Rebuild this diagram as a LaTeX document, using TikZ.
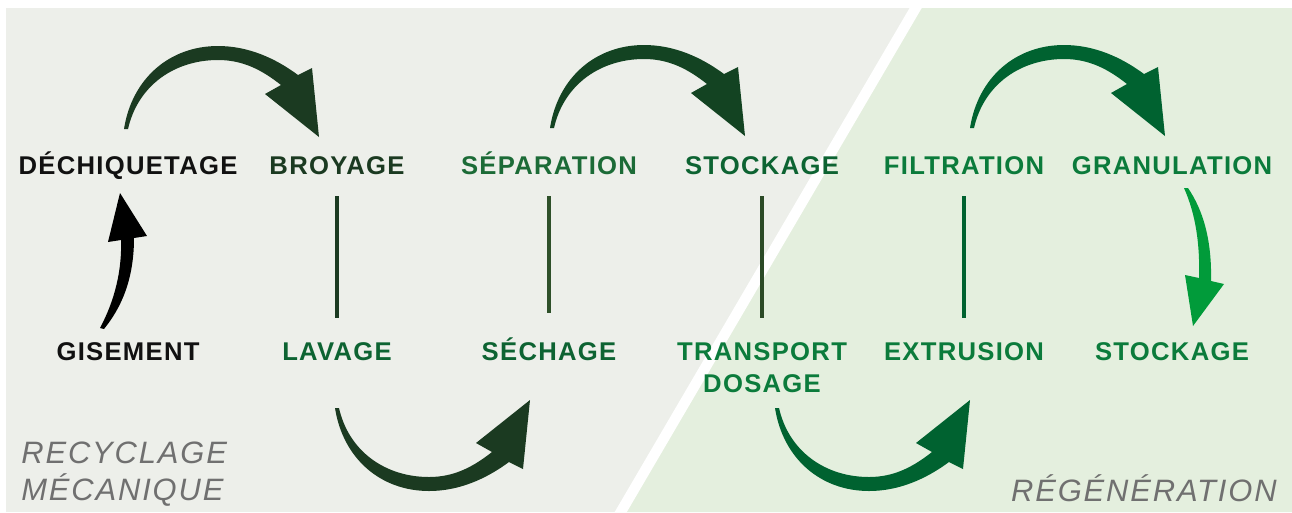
\documentclass[tikz,border=0pt]{standalone}
\usepackage{fontspec}
\setmainfont{Liberation Sans}
\newfontfamily\stagefamily[LetterSpace=5]{Liberation Sans}
\newfontfamily\zonefamily[LetterSpace=6]{Liberation Sans}
\usepackage{xcolor}
\usepackage{tikz}
\usetikzlibrary{positioning}

\definecolor{bggray}{HTML}{EDEFEA}
\definecolor{bggreen}{HTML}{E4EFDE}
\definecolor{ink}{HTML}{111111}
\definecolor{darkgreen}{HTML}{1B3A21}
\definecolor{midgreen}{HTML}{1C6B37}
\definecolor{deepgreen}{HTML}{0D6332}
\definecolor{leafgreen}{HTML}{0B7B3B}
\definecolor{olivegreen}{HTML}{2E5029}
\definecolor{mossgreen}{HTML}{2B4A26}
\definecolor{pinegreen}{HTML}{006230}
\definecolor{forestgreen}{HTML}{134322}
\definecolor{brightgreen}{HTML}{019B3A}
\definecolor{zonegray}{HTML}{707070}

\newcommand{\stagefont}{\stagefamily\bfseries\fontsize{14.6}{18.1}\selectfont}
\newcommand{\zonefont}{\zonefamily\itshape\fontsize{17.6}{21}\selectfont}

\tikzset{
  swoosh/.pic={
    \fill[pic actions] (-2,0) .. controls (6,-51) and (44,-83) .. (92,-83)
      .. controls (122,-83) and (149,-71) .. (172,-54) -- (186,-61) -- (193,8)
      -- (139,-35) -- (155,-44) .. controls (136,-59) and (117,-69) .. (92,-69)
      .. controls (49,-69) and (12,-44) .. (2,0) -- cycle;
  }
}

\begin{document}
\begin{tikzpicture}[x=0.02cm, y=-0.02cm]
		\tikzstyle{stage} = [font=\stagefont, inner sep=2pt, anchor=base, text depth=0pt, align=center]
		\tikzstyle{zone} = [font=\zonefont, text=zonegray, inner sep=0pt, align=left]
		\tikzstyle{link} = [line width=0.08cm, shorten <=0.37cm, shorten >=0.41cm]

		\useasboundingbox (0,0) rectangle (1292,512);
		\fill[bggray] (6,8) rectangle (1292,512);
		\fill[bggreen] (916,8) -- (1292,8) -- (1292,512) -- (621,512) -- cycle;
		\draw[white, line width=0.21cm] (918,4) -- (619,515);

		\node[stage, text=ink] 		at (128,174) 	(dech) 		{DÉCHIQUETAGE};
		\node[stage, text=darkgreen] 	at (337,174) 	(broyage) 	{BROYAGE};
		\node[stage, text=midgreen] 	at (549,174) 	(separation) 	{SÉPARATION};
		\node[stage, text=deepgreen] 	at (762,174) 	(stockA) 	{STOCKAGE};
		\node[stage, text=leafgreen] 	at (964,174) 	(filtration) 	{FILTRATION};
		\node[stage, text=leafgreen] 	at (1172,174) 	(granulation) 	{GRANULATION};

		\node[stage, text=ink] 		at (128,360) 	(gisement) 	{GISEMENT};
		\node[stage, text=deepgreen] 	at (337,360) 	(lavage) 	{LAVAGE};
		\node[stage, text=deepgreen] 	at (549,360) 	(sechage) 	{SÉCHAGE};
		\node[stage, text=leafgreen] 	at (762,392) 	(transport) 	{TRANSPORT\\DOSAGE};
		\node[stage, text=leafgreen] 	at (964,360) 	(extrusion) 	{EXTRUSION};
		\node[stage, text=leafgreen] 	at (1172,360) 	(stockB) 	{STOCKAGE};

		\draw[link, darkgreen] (broyage) -- (lavage);
		\draw[link, olivegreen] (separation) -- (sechage);
		\draw[link, mossgreen] (stockA) -- (transport);
		\draw[link, pinegreen] (filtration) -- (extrusion);

		\pic[fill=darkgreen] at (126,129) {swoosh};
		\pic[fill=darkgreen, yscale=-1] at (337,408) {swoosh};
		\pic[fill=forestgreen] at (552,128) {swoosh};
		\pic[fill=pinegreen, yscale=-1] at (777,408) {swoosh};
		\pic[fill=pinegreen] at (972,128) {swoosh};

		\fill[black] (100,328) .. controls (115,300) and (122,270) .. (121,240) -- (108,242)
			-- (120,193) -- (147,236) -- (134,238) .. controls (134,280) and (121,308) .. (104,329) -- cycle;
		\fill[brightgreen] (1184,188) -- (1188,188) .. controls (1203,210) and (1212,240) .. (1211,281)
			-- (1224,284) -- (1193,326) -- (1185,275) -- (1199,278) .. controls (1200,245) and (1196,215) .. (1184,188) -- cycle;

		\node[zone, anchor=base west] at (21,500) (recyclage) {RECYCLAGE\\MÉCANIQUE};
		\node[zone, anchor=base east] at (1277,501) (regeneration) {RÉGÉNÉRATION};
\end{tikzpicture}
\end{document}
